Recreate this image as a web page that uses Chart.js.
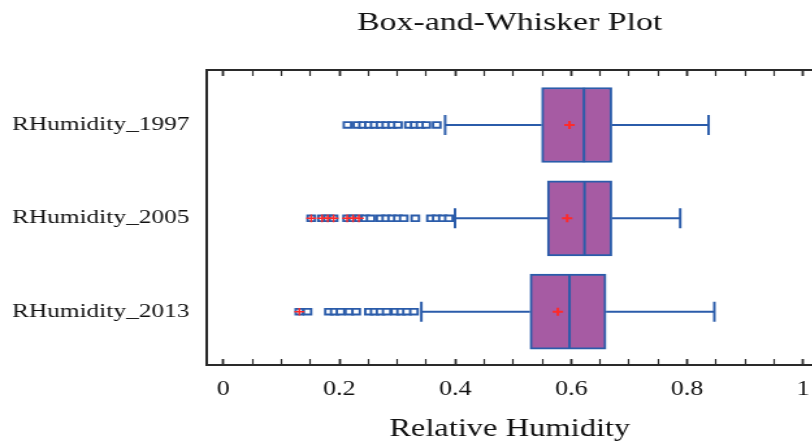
<!DOCTYPE html>
<html><head><meta charset="utf-8">
<script src="https://cdn.jsdelivr.net/npm/chart.js@4/dist/chart.umd.min.js"></script>
<style>
html,body{margin:0;padding:0;background:#fff;overflow:hidden;width:812px;height:447px;}
#wrap{position:absolute;left:0;top:0;width:650px;height:447px;transform:scaleX(1.3);transform-origin:0 0;}
</style></head><body>
<div id="wrap"><canvas id="c" width="650" height="447"></canvas></div>
<script>
// ---- data ----
const categories = ['RHumidity_1997', 'RHumidity_2005', 'RHumidity_2013'];
const q1 = [0.549, 0.559, 0.529];
const medians = [0.622, 0.623, 0.597];
const q3 = [0.670, 0.670, 0.660];
const means = [0.597, 0.593, 0.577];
const whiskerLow = [0.3825, 0.3995, 0.3415];
const whiskerHigh = [0.837, 0.788, 0.847];
const outliers1997 = [0.214, 0.231, 0.241, 0.251, 0.261, 0.271, 0.281, 0.291, 0.301, 0.320, 0.330, 0.340, 0.350, 0.368];
const outliers2005 = [0.1515, 0.170, 0.180, 0.190, 0.2135, 0.2236, 0.2337, 0.2445, 0.254, 0.271, 0.281, 0.291, 0.301, 0.311, 0.331, 0.358, 0.368, 0.3785, 0.389];
const outliers2013 = [0.131, 0.145, 0.182, 0.192, 0.202, 0.217, 0.229, 0.251, 0.261, 0.271, 0.2816, 0.2964, 0.3065, 0.3166, 0.3287];
const farOutliers1997 = [];
const farOutliers2005 = [0.1515, 0.170, 0.180, 0.190, 0.2135, 0.2236, 0.2337];
const farOutliers2013 = [0.131];
const xTickValues = [0, 0.2, 0.4, 0.6, 0.8, 1];
const xTickLabels = ['0', '0.2', '0.4', '0.6', '0.8', '1'];

// ---- styling ----
const BLUE = '#2b5caa', PURPLE = '#a65ba3', RED = '#ff2a2a', FRAME = '#2a2a2a', TXT = '#111';
const FONT = 'Liberation Serif';
const CAP = 0.107, HALF = 0.40;

const outlierSets = [outliers1997, outliers2005, outliers2013];
const farSets = [farOutliers1997, farOutliers2005, farOutliers2013];
const GAP = {x: NaN, y: NaN};

const whiskerPts = [];
categories.forEach((c, i) => {
  const y = i + 1;
  whiskerPts.push({x: whiskerLow[i], y}, {x: q1[i], y}, GAP);
  whiskerPts.push({x: q3[i], y}, {x: whiskerHigh[i], y}, GAP);
  whiskerPts.push({x: whiskerLow[i], y: y - CAP}, {x: whiskerLow[i], y: y + CAP}, GAP);
  whiskerPts.push({x: whiskerHigh[i], y: y - CAP}, {x: whiskerHigh[i], y: y + CAP}, GAP);
  whiskerPts.push({x: medians[i], y: y - HALF}, {x: medians[i], y: y + HALF}, GAP);
});
const outlierPts = [];
outlierSets.forEach((arr, i) => arr.forEach(v => outlierPts.push({x: v, y: i + 1})));
const farPts = [];
farSets.forEach((arr, i) => arr.forEach(v => farPts.push({x: v, y: i + 1})));

const minorTicks = [];
for (let k = 0; k <= 20; k++) minorTicks.push(Math.round(k * 5) / 100);
function xLabel(v) {
  for (let k = 0; k < xTickValues.length; k++) if (Math.abs(v - xTickValues[k]) < 1e-9) return xTickLabels[k];
  return '';
}
function isMajor(v) { return xLabel(v) !== ''; }

const X_MIN = -0.0284, X_MAX = 1.0163;
const gridOpts = {
  display: true, drawOnChartArea: false, drawTicks: true, tickLength: -6, color: FRAME,
  tickWidth: (ctx) => (ctx.tick && isMajor(ctx.tick.value)) ? 1.8 : 1.2
};

new Chart(document.getElementById('c'), {
  data: {
    datasets: [
      {type: 'bar', indexAxis: 'y', xAxisID: 'x', yAxisID: 'y', order: 5,
       data: categories.map((c, i) => ({y: i + 1, x: [q1[i], q3[i]]})),
       backgroundColor: PURPLE, borderColor: BLUE, borderWidth: 2, borderSkipped: false, barThickness: 75},
      {type: 'line', xAxisID: 'x', yAxisID: 'y', order: 4, data: whiskerPts,
       borderColor: BLUE, borderWidth: 2, pointRadius: 0, spanGaps: false, fill: false, tension: 0},
      {type: 'scatter', xAxisID: 'x', yAxisID: 'y', order: 3, data: outlierPts,
       pointStyle: 'rect', pointRadius: 4, pointBorderWidth: 1.9, pointBorderColor: BLUE, pointBackgroundColor: '#fff'},
      {type: 'scatter', xAxisID: 'x', yAxisID: 'y', order: 2, data: farPts,
       pointStyle: 'cross', pointRadius: 3.8, pointBorderWidth: 1.5, pointBorderColor: RED},
      {type: 'scatter', xAxisID: 'x', yAxisID: 'y', order: 1,
       data: categories.map((c, i) => ({x: means[i], y: i + 1})),
       pointStyle: 'cross', pointRadius: 4, pointBorderWidth: 2, pointBorderColor: RED, pointBackgroundColor: RED}
    ]
  },
  options: {
    responsive: false, animation: false, events: [],
    layout: {padding: {left: 9.2, right: 25, top: 0, bottom: 0}},
    plugins: {
      legend: {display: false}, tooltip: {enabled: false},
      title: {display: true, text: 'Box-and-Whisker Plot', fullSize: false, color: TXT,
              font: {family: FONT, size: 26, weight: 'normal'}, padding: {top: 8, bottom: 30.8}}
    },
    scales: {
      x: {type: 'linear', position: 'bottom', min: X_MIN, max: X_MAX, offset: false,
          grid: gridOpts, border: {display: true, color: FRAME, width: 2},
          afterBuildTicks: s => { s.ticks = minorTicks.map(v => ({value: v})); },
          ticks: {autoSkip: false, maxRotation: 0, padding: 19, color: TXT,
                  font: {family: FONT, size: 20}, callback: v => xLabel(v)},
          title: {display: true, text: 'Relative Humidity', color: TXT,
                  font: {family: FONT, size: 25}, padding: {top: 0, bottom: 3}},
          afterFit: s => { s.height = 82; }},
      x2: {type: 'linear', position: 'top', min: X_MIN, max: X_MAX, offset: false,
           grid: gridOpts, border: {display: true, color: FRAME, width: 2},
           afterBuildTicks: s => { s.ticks = minorTicks.map(v => ({value: v})); },
           ticks: {autoSkip: false, maxRotation: 0, callback: () => ''},
           afterFit: s => { s.height = 0; }},
      y: {type: 'linear', position: 'left', reverse: true, min: 0.411, max: 3.571, offset: false,
          grid: {display: false, offset: false}, border: {display: true, color: FRAME, width: 2},
          afterBuildTicks: s => { s.ticks = categories.map((c, i) => ({value: i + 1})); },
          ticks: {crossAlign: 'far', color: TXT, font: {family: FONT, size: 19.5},
                  callback: v => categories[Math.round(v) - 1] || ''},
          afterFit: s => { s.width = 150; }}
    }
  }
});
</script>
</body></html>
